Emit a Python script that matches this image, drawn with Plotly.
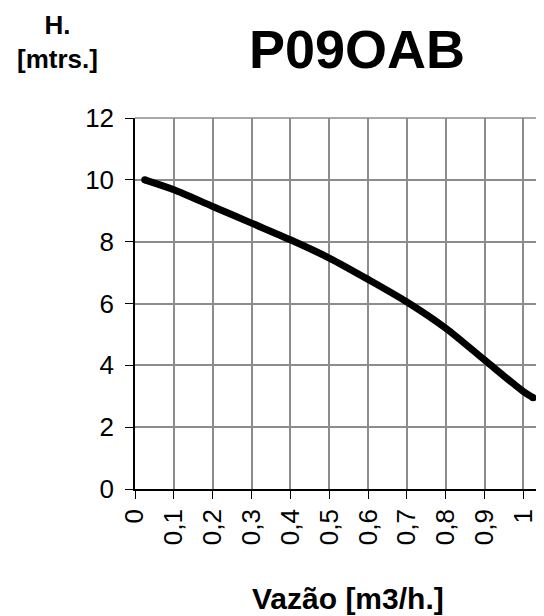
import plotly.graph_objects as go

flow = [0.025, 0.1, 0.2, 0.3, 0.4, 0.5, 0.6, 0.7, 0.8, 0.9, 1.0, 1.025]
head = [10.0, 9.68, 9.14, 8.6, 8.06, 7.47, 6.78, 6.05, 5.2, 4.17, 3.15, 2.95]
x_ticks = [0, 0.1, 0.2, 0.3, 0.4, 0.5, 0.6, 0.7, 0.8, 0.9, 1.0]
x_tick_labels = ["0", "0,1", "0,2", "0,3", "0,4", "0,5", "0,6", "0,7", "0,8", "0,9", "1"]
y_ticks = [0, 2, 4, 6, 8, 10, 12]

FONT = "Liberation Sans, Arial, sans-serif"
GRID = "#8c8c8c"

fig = go.Figure()
fig.add_trace(go.Scatter(
    x=flow, y=head, mode="lines",
    line=dict(color="black", width=7, shape="spline", smoothing=0.8),
    hoverinfo="skip", showlegend=False,
))
# round line caps at both ends
fig.add_trace(go.Scatter(
    x=[flow[0], flow[-1]], y=[head[0], head[-1]], mode="markers",
    marker=dict(color="black", size=7, line=dict(width=0)),
    hoverinfo="skip", showlegend=False,
))

# page body has an 8px margin, so the figure is offset by 8px
fig.update_layout(
    width=536, height=608,
    margin=dict(l=127, r=5, t=110, b=127),
    paper_bgcolor="white", plot_bgcolor="white",
    font=dict(family=FONT, color="black", size=24),
    showlegend=False,
    xaxis=dict(
        range=[0, 1.04], tickvals=x_ticks, ticktext=x_tick_labels,
        tickangle=-90, ticks="outside", ticklen=8, tickcolor="black",
        showgrid=True, gridcolor=GRID, gridwidth=1.5,
        showline=True, linecolor="black", linewidth=1.5,
        zeroline=False, tickfont=dict(size=26, family=FONT),
    ),
    yaxis=dict(
        range=[0, 12], tickvals=y_ticks, ticks="outside", ticklen=8,
        tickcolor="black", showgrid=True, gridcolor=GRID, gridwidth=1.5,
        showline=True, linecolor="black", linewidth=1.5,
        zeroline=False, tickfont=dict(size=26, family=FONT),
        ticklabelstandoff=6,
    ),
    shapes=[
        dict(type="line", xref="paper", yref="paper", x0=0, x1=1, y0=1, y1=1,
             line=dict(color=GRID, width=1.5)),
        dict(type="line", xref="paper", yref="paper", x0=1, x1=1, y0=0, y1=1,
             line=dict(color=GRID, width=1.5)),
    ],
    annotations=[
        dict(text="<b>P09OAB</b>", xref="paper", yref="paper", x=0.55, y=1.185,
             xanchor="center", yanchor="middle", showarrow=False,
             font=dict(size=54, family=FONT)),
        dict(text="<b>H.<br>[mtrs.]</b>", xref="paper", yref="paper", x=-0.193, y=1.205,
             xanchor="center", yanchor="middle", showarrow=False,
             font=dict(size=26, family=FONT)),
        dict(text="<b>Vazão [m3/h.]</b>", xref="paper", yref="paper", x=0.527, y=-0.294,
             xanchor="center", yanchor="middle", showarrow=False,
             font=dict(size=30, family=FONT)),
    ],
)

fig.write_html("out.html")
